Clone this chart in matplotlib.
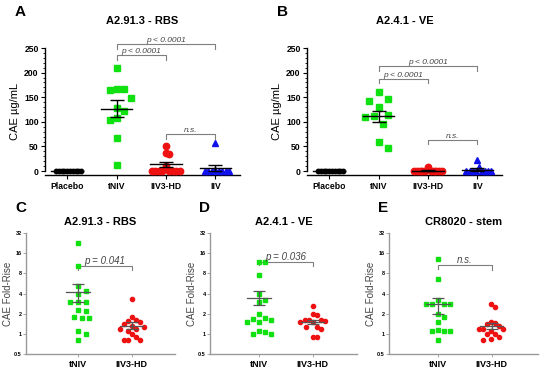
import numpy as np
import matplotlib
matplotlib.use("Agg")
import matplotlib.pyplot as plt
import matplotlib.ticker as mticker

plt.rcParams['font.family'] = ['Liberation Sans', 'DejaVu Sans']

# ---- top panels (CAE ug/mL) ----
groups_top = ["Placebo", "tNIV", "IIV3-HD", "IIV"]

a_placebo = [0] * 10
a_tniv = [210, 167, 166, 165, 149, 128, 122, 107, 103, 68, 12]
a_iiv3hd = [51, 36, 34, 9.5, 0, 0, 0, 0, 0, 0, 0, 0]
a_iiv = [57, 2, 1, 0, 0, 0, 0, 0, 0]
a_mean = [0, 127, 13.5, 7]
a_sem = [0, 18, 5, 6]

b_placebo = [0] * 10
b_tniv = [160, 146, 143, 130, 114, 111, 109, 96, 60, 47]
b_iiv3hd = [9, 1, 0, 0, 0, 0, 0, 0, 0, 0, 0]
b_iiv = [22, 9, 1, 0, 0, 0, 0, 0, 0, 0]
b_mean = [0, 111, 1, 3]
b_sem = [0, 12, 0.8, 2.5]

# ---- bottom panels (fold rise) ----
groups_bot = ["tNIV", "IIV3-HD"]

c_tniv = [23, 10.3, 5.2, 4.4, 4.0, 3.0, 3.0, 2.95, 2.3, 2.2, 1.8, 1.7, 1.7, 1.1, 1.0, 0.8]
c_iiv3hd = [3.3, 1.8, 1.6, 1.55, 1.5, 1.4, 1.3, 1.25, 1.2, 1.2, 1.1, 1.0, 0.9, 0.8, 0.8, 0.8]
c_mean = [4.2, 1.33]
c_sem_hi = [5.6, 1.5]
c_sem_lo = [3.0, 1.17]

d_tniv = [11.7, 11.7, 7.5, 3.9, 3.2, 3.0, 1.95, 1.7, 1.65, 1.6, 1.5, 1.5, 1.1, 1.05, 1.0, 1.0]
d_iiv3hd = [2.6, 1.95, 1.9, 1.6, 1.6, 1.6, 1.55, 1.5, 1.5, 1.25, 1.25, 1.2, 0.9, 0.9]
d_mean = [3.4, 1.5]
d_sem_hi = [4.4, 1.62]
d_sem_lo = [2.7, 1.4]

e_tniv = [13, 6.5, 3.2, 2.8, 2.8, 2.8, 2.75, 2.0, 1.8, 1.5, 1.15, 1.1, 1.1, 1.1, 0.8]
e_iiv3hd = [2.75, 2.5, 1.5, 1.45, 1.4, 1.3, 1.2, 1.2, 1.2, 1.1, 1.0, 1.0, 0.9, 0.85, 0.8]
e_mean = [2.8, 1.3]
e_sem_hi = [3.4, 1.45]
e_sem_lo = [2.0, 1.18]

GREEN = "#11e011"
RED = "#ee1111"
BLUE = "#1111ee"
GREY = "#7f7f7f"


def swarm(ax, x0, vals, size_px, maxw):
    # simple beeswarm, squeezed so the group never gets wider than maxw px each side
    vals = np.asarray(vals, float)
    pts = ax.transData.transform(np.column_stack([np.full(len(vals), x0), vals]))
    xc, ys = pts[0, 0], pts[:, 1]
    placed = []
    offs = np.zeros(len(vals))
    step = size_px * 0.5
    for i in np.argsort(-ys):
        k = 0
        while True:
            cands = [0.0] if k == 0 else [k * step, -k * step]
            hit = None
            for c in cands:
                if all((c - px) ** 2 + (ys[i] - py) ** 2 >= size_px ** 2 for px, py in placed):
                    hit = c
                    break
            if hit is not None:
                offs[i] = hit
                placed.append((hit, ys[i]))
                break
            k += 1
    m = np.abs(offs).max()
    if m > maxw:
        offs = offs * maxw / m
    inv = ax.transData.inverted()
    xs = inv.transform(np.column_stack([xc + offs, ys]))[:, 0]
    return xs, vals


def bracket(ax, x1, x2, ytop, y1, y2, text, fs, color=GREY):
    ax.plot([x1, x1, x2, x2], [y1, ytop, ytop, y2], color=color, lw=0.8, clip_on=False)
    ax.text((x1 + x2) / 2, ytop, text, ha="center", va="bottom", fontsize=fs,
            style="italic", color="#444444", clip_on=False)


fig = plt.figure(figsize=(5.5, 3.76), dpi=100)


def top_panel(left, letter, title, data, means, sems, brackets):
    ax = fig.add_axes([left / 550, 201 / 376, 195 / 550, 127 / 376])
    ax.set_xlim(-0.45, 3.5)
    ax.set_ylim(-8, 250)
    for s in ["top", "right"]:
        ax.spines[s].set_visible(False)
    ax.spines["left"].set_bounds(0, 250)
    ax.spines["left"].set_linewidth(1.0)
    ax.spines["bottom"].set_linewidth(1.0)
    ax.set_yticks([0, 50, 100, 150, 200, 250])
    ax.yaxis.set_minor_locator(mticker.MultipleLocator(10))
    ax.tick_params(axis="y", which="major", length=3, width=0.8, labelsize=6.2, pad=1.5)
    ax.tick_params(axis="y", which="minor", length=1.5, width=0.6)
    ax.set_xticks(range(4))
    ax.set_xticklabels(groups_top, fontsize=6.2, fontweight="bold")
    ax.tick_params(axis="x", length=3, width=0.8, pad=2)
    for lab in ax.get_yticklabels():
        lab.set_fontweight("bold")
    ax.set_ylabel("CAE µg/mL", fontsize=8, labelpad=3)
    ax.set_title(title, fontsize=8, fontweight="bold", pad=17)
    fig.text((left - 30) / 550, 1 - 12 / 376, letter, fontsize=11, fontweight="bold",
             ha="left", va="center")
    styles = [("o", "black", 3.2, 4), ("s", GREEN, 4.6, 10), ("o", RED, 4.6, 7), ("^", BLUE, 4.8, 7)]
    for i, vals in enumerate(data):
        m, c, ms, px = styles[i]
        xs, ys = swarm(ax, i, vals, px, 14)
        ax.plot(xs, ys, ls="none", marker=m, color=c, ms=ms, mec=c, clip_on=False, zorder=3)
        ax.plot([i - 0.32, i + 0.32], [means[i], means[i]], color="black", lw=1.0, zorder=4)
        if sems[i] > 0:
            ax.errorbar(i, means[i], yerr=sems[i], color="black", lw=1.0, capsize=5,
                        capthick=1.0, zorder=4)
    for x1, x2, yt, ya, yb, txt in brackets:
        bracket(ax, x1, x2, yt, ya, yb, txt, 6)
    return ax


top_panel(45, "A", "A2.91.3 - RBS", [a_placebo, a_tniv, a_iiv3hd, a_iiv], a_mean, a_sem,
          [(1, 3, 259, 247, 247, "p < 0.0001"), (1, 2, 236, 226, 226, "p < 0.0001"),
           (2, 3, 76, 66, 66, "n.s.")])
top_panel(307, "B", "A2.4.1 - VE", [b_placebo, b_tniv, b_iiv3hd, b_iiv], b_mean, b_sem,
          [(1, 3, 213, 204, 204, "p < 0.0001"), (1, 2, 188, 178, 178, "p < 0.0001"),
           (2, 3, 63, 55, 55, "n.s.")])


def bottom_panel(left, right, x0, letter, title, tniv, iiv, means, hi, lo, btxt, btop):
    sp = 53.5
    ax = fig.add_axes([left / 550, 22 / 376, (right - left) / 550, 121 / 376])
    ax.set_xlim((left - x0) / sp, (right - x0) / sp)
    ax.set_yscale("log", base=2)
    ax.set_ylim(0.5, 32)
    for s in ["top", "right"]:
        ax.spines[s].set_visible(False)
    for s in ["left", "bottom"]:
        ax.spines[s].set_color("#999999")
        ax.spines[s].set_linewidth(1.0)
    ticks = [0.5, 1, 2, 4, 8, 16, 32]
    ax.set_yticks(ticks)
    ax.set_yticklabels(["0.5", "1", "2", "4", "8", "16", "32"], fontsize=4, fontweight="bold")
    ax.yaxis.set_minor_locator(mticker.LogLocator(base=2, subs=[1.19, 1.41, 1.68]))
    ax.yaxis.set_minor_formatter(mticker.NullFormatter())
    ax.tick_params(axis="y", which="major", length=2, width=0.6, color="#999999", pad=1)
    ax.tick_params(axis="y", which="minor", length=1, width=0.5, color="#999999")
    ax.set_xticks([0, 1])
    ax.set_xticklabels(groups_bot, fontsize=6.5, fontweight="bold")
    ax.tick_params(axis="x", length=2, width=0.6, color="#999999", pad=2)
    ax.set_ylabel("CAE Fold-Rise", fontsize=7, color="#444444", labelpad=1)
    ax.set_title(title, fontsize=8, fontweight="bold", pad=6)
    fig.text((left - 11) / 550, 1 - 208 / 376, letter, fontsize=11, fontweight="bold",
             ha="left", va="center")
    for i, (vals, m, c) in enumerate([(tniv, "s", GREEN), (iiv, "o", RED)]):
        xs, ys = swarm(ax, i, vals, 7.5, 12)
        ax.plot(xs, ys, ls="none", marker=m, color=c, ms=3.2 if m == "s" else 3.0, mec=c,
                clip_on=False, zorder=3)
        ax.plot([i - 0.22, i + 0.22], [means[i], means[i]], color="#555555", lw=0.9, zorder=4)
        ax.errorbar(i, means[i], yerr=[[means[i] - lo[i]], [hi[i] - means[i]]], color="#555555",
                    lw=0.9, capsize=4, capthick=0.9, zorder=4)
    bracket(ax, 0, 1, btop, btop * 0.88, btop * 0.86, btxt, 7)
    return ax


bottom_panel(26, 175, 78, "C", "A2.91.3 - RBS", c_tniv, c_iiv3hd, c_mean, c_sem_hi, c_sem_lo,
             "p = 0.041", 10.3)
bottom_panel(210, 357, 259, "D", "A2.4.1 - VE", d_tniv, d_iiv3hd, d_mean, d_sem_hi, d_sem_lo,
             "p = 0.036", 12.0)
bottom_panel(389, 538, 438, "E", "CR8020 - stem", e_tniv, e_iiv3hd, e_mean, e_sem_hi, e_sem_lo,
             "n.s.", 10.6)

fig.savefig("out.png", dpi=100)
